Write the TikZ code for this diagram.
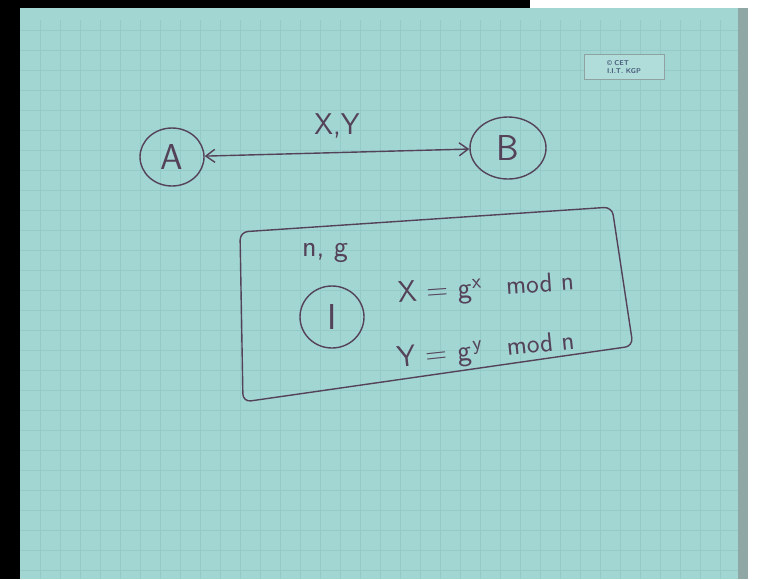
\documentclass[tikz,border=0pt]{standalone}
\usetikzlibrary{positioning,shapes.geometric,arrows.meta}
\definecolor{paper}{RGB}{162,214,211}
\definecolor{gridline}{RGB}{148,202,200}
\definecolor{ink}{RGB}{84,66,88}
\definecolor{logotext}{RGB}{70,90,120}
\begin{document}
\begin{tikzpicture}[x=1pt,y=-1pt,>={Straight Barb[length=9pt,width=13pt]},font=\sffamily\fontsize{30}{34}\selectfont,
    pen/.style={ink,line width=1.4pt},
    party/.style={pen,draw,ellipse,inner sep=0pt,font=\sffamily\fontsize{36}{40}\selectfont}]
  \useasboundingbox (0,0) rectangle (765,579);
  \fill[white] (0,0) rectangle (765,579);
  \fill[paper] (20,8) rectangle (738,579);
  \fill[black] (0,0) rectangle (20,579);
  \fill[black] (0,0) rectangle (530,8);
  \fill[gray!55!paper] (738,8) rectangle (748,579);
  \foreach \gx in {40,60,...,720} \draw[gridline,line width=0.6pt] (\gx,20) -- (\gx,579);
  \foreach \gy in {30,50,...,570} \draw[gridline,line width=0.6pt] (20,\gy) -- (738,\gy);
  \node[draw=gray!60!paper,fill=paper!85!white,text=logotext,align=left,inner sep=2pt,
    font=\sffamily\bfseries\fontsize{7}{8}\selectfont,minimum width=80pt,minimum height=25pt] (logo) at (624,67) {\copyright{} CET\\I.I.T. KGP};
  \node[party,minimum width=64pt,minimum height=58pt] (A) at (172,157) {A};
  \node[party,minimum width=76pt,minimum height=62pt] (B) at (508,148) {B};
  \draw[pen,<->] (A) -- (B) node[midway,above=10pt] {X,Y};
  \draw[pen,rounded corners=8pt] (240,232) -- (612,207) -- (633,346) -- (243,402) -- cycle;
  \node[ink] (ng) at (325,253) {n, g};
  \node[party,minimum width=64pt,minimum height=62pt] (I) at (332,317) {I};
  \node[ink,anchor=west,rotate=4,inner sep=0pt] (eqX) at (398,295)
    {X = g\kern1pt\textsuperscript{x}\hspace{24pt}{\fontsize{27}{30}\selectfont mod n}};
  \node[ink,anchor=west,rotate=6,inner sep=0pt] (eqY) at (398,360)
    {Y = g\kern2pt\textsuperscript{y}\hspace{24pt}{\fontsize{27}{30}\selectfont mod n}};
\end{tikzpicture}
\end{document}
